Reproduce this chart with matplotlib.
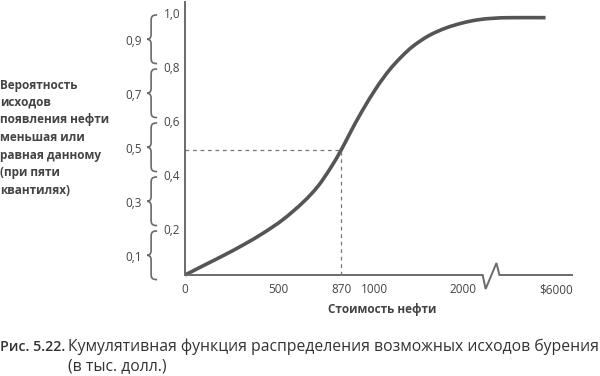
import numpy as np
import matplotlib
matplotlib.use("Agg")
import matplotlib.pyplot as plt
from matplotlib.path import Path
from matplotlib.patches import PathPatch
from matplotlib.transforms import blended_transform_factory

plt.rcParams['font.family'] = ['Open Sans', 'DejaVu Sans']

# ------------------------------
# data

x_ticks = [0, 500, 870, 1000, 2000, 6000]
x_labels = ["0", "500", "870", "1000", "2000", "$6000"]

y_ticks = [0.2, 0.4, 0.6, 0.8, 1.0]
y_labels = ["0,2", "0,4", "0,6", "0,8", "1,0"]
y_mid = [0.1, 0.3, 0.5, 0.7, 0.9]
y_mid_labels = ["0,1", "0,3", "0,5", "0,7", "0,9"]

cost = [0, 105, 211, 316, 421, 529, 645, 731, 806, 870, 904, 950, 1022,
        1167, 1300, 1433, 1611, 1800, 1989, 2632, 3347, 4063, 5537]
prob = [0.037, 0.074, 0.111, 0.150, 0.193, 0.243, 0.306, 0.364, 0.432, 0.500,
        0.562, 0.642, 0.731, 0.796, 0.844, 0.884, 0.923, 0.951, 0.970, 0.982,
        0.988, 0.990, 0.990]

median_cost = 870
median_prob = 0.5

# ------------------------------
# broken x scale: piecewise linear between the tick values

scale_val = [0, 500, 870, 1000, 2000, 6000, 7000]
scale_pos = [0, 95, 159, 193, 283, 378, 420]

def fwd(x):
    return np.interp(x, scale_val, scale_pos)

def inv(p):
    return np.interp(p, scale_pos, scale_val)

base = 0.037
top = 1.048
x_end = 6379
brk = [2842, 2968, 3432, 3558]

axis_col = "#6a6a6a"
line_col = "#555555"
text_col = "#444444"

def smooth_path(xs, ys):
    # catmull-rom through the points, drawn as bezier segments
    p = np.column_stack([xs, ys])
    verts = [tuple(p[0])]
    codes = [Path.MOVETO]
    n = len(p)
    for i in range(n - 1):
        p0 = p[max(i - 1, 0)]
        p1 = p[i]
        p2 = p[i + 1]
        p3 = p[min(i + 2, n - 1)]
        c1 = p1 + (p2 - p0) / 6.0
        c2 = p2 - (p3 - p1) / 6.0
        verts += [tuple(c1), tuple(c2), tuple(p2)]
        codes += [Path.CURVE4] * 3
    return Path(verts, codes)

fig = plt.figure(figsize=(6, 3.76), dpi=100)
ax = fig.add_axes([185 / 600, 101 / 376, 387 / 600, 273 / 376])
ax.set_xscale('function', functions=(fwd, inv))
ax.set_xlim(0, x_end)
ax.set_ylim(base, top)
for s in ax.spines.values():
    s.set_visible(False)
ax.spines['left'].set_visible(True)
ax.spines['left'].set_color(axis_col)
ax.spines['left'].set_linewidth(1.4)
ax.set_xticks([])
ax.set_yticks([])

# bottom axis with break mark
bx = [0, brk[0], brk[1], brk[2], brk[3], x_end]
by = [base, base, base - 14 / 270, base + 12 / 270, base, base]
ax.plot(bx, by, color=axis_col, lw=1.4, clip_on=False, solid_joinstyle='miter')

# dashed guides at the median
ax.plot([0, median_cost], [median_prob, median_prob], color="#777777", lw=0.9,
        ls=(0, (3, 3)), clip_on=False)
ax.plot([median_cost, median_cost], [base, median_prob], color="#777777", lw=0.9,
        ls=(0, (3, 3)), clip_on=False)

# the curve (positions in axes fraction so the bezier is smooth on screen)
cx = fwd(np.array(cost)) / fwd(x_end)
cy = (np.array(prob) - base) / (top - base)
ax.add_patch(PathPatch(smooth_path(cx, cy), fill=False, edgecolor=line_col,
                       lw=2.6, capstyle='butt', transform=ax.transAxes,
                       clip_on=False))

# x tick labels
for v, t in zip(x_ticks, x_labels):
    ax.text(v, base - 0.055, t, ha='center', va='center', fontsize=8.5,
            color=text_col)
ax.text(0.51, -0.128, "Стоимость нефти", transform=ax.transAxes, ha='center',
        va='center', fontsize=8.5, fontweight='bold', color=text_col)

# y labels and braces
tr = blended_transform_factory(ax.transAxes, ax.transData)
for v, t in zip(y_ticks, y_labels):
    ax.text(-0.034, v, t, transform=tr, ha='center', va='center', fontsize=8.5,
            color=text_col, clip_on=False)
for v, t in zip(y_mid, y_mid_labels):
    ax.text(-0.133, v, t, transform=tr, ha='center', va='center', fontsize=8.5,
            color=text_col, clip_on=False)

def brace(lo, hi, x0, w):
    pts = [(1, 1), (0.4, 1), (0.4, 0.95), (0.4, 0.85),
           (0.4, 0.6),
           (0.4, 0.52), (0.2, 0.5), (0, 0.5),
           (0.2, 0.5), (0.4, 0.48), (0.4, 0.4),
           (0.4, 0.15),
           (0.4, 0.05), (0.4, 0), (1, 0)]
    codes = [Path.MOVETO, Path.CURVE4, Path.CURVE4, Path.CURVE4,
             Path.LINETO,
             Path.CURVE4, Path.CURVE4, Path.CURVE4,
             Path.CURVE4, Path.CURVE4, Path.CURVE4,
             Path.LINETO,
             Path.CURVE4, Path.CURVE4, Path.CURVE4]
    verts = [(x0 + px * w, lo + py * (hi - lo)) for px, py in pts]
    return PathPatch(Path(verts, codes), fill=False, edgecolor=axis_col, lw=1.2,
                     transform=tr, clip_on=False)

for v in y_mid:
    ax.add_patch(brace(v - 0.08, v + 0.1, -0.098, 0.026))

# left title
left_lines = ["Вероятность", "исходов", "появления нефти", "меньшая или",
              "равная данному", "(при пяти", "квантилях)"]
for i, t in enumerate(left_lines):
    fig.text(0.0, 1 - (85 + i * 17.5) / 376, t, ha='left', va='center',
             fontsize=8.5, fontweight='bold', color=text_col)

# caption
fig.text(0.0, 1 - 347 / 376, "Рис. 5.22.", ha='left', va='center',
         fontsize=10.3, fontweight='semibold', color="#333333")
fig.text(68 / 600, 1 - 347 / 376,
         "Кумулятивная функция распределения возможных исходов бурения",
         ha='left', va='center', fontsize=11.35, color="#333333")
fig.text(68 / 600, 1 - 366 / 376, "(в тыс. долл.)", ha='left', va='center',
         fontsize=11.35, color="#333333")

fig.savefig("out.png", dpi=100)
